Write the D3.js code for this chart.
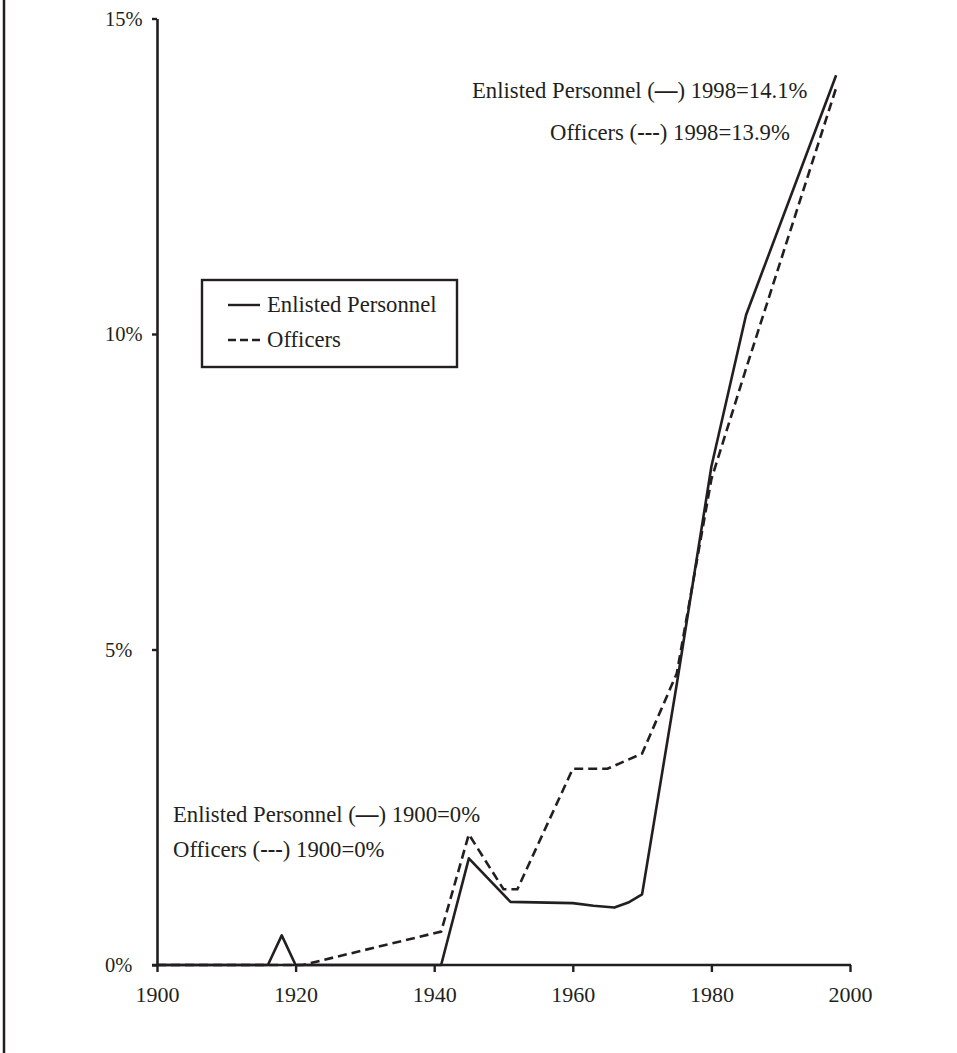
<!DOCTYPE html>
<html>
<head>
<meta charset="utf-8">
<script src="https://cdn.jsdelivr.net/npm/d3@7"></script>
<style>
  body { margin: 0; background: #fff; }
  svg { display: block; }
  text { font-family: "Liberation Serif", "DejaVu Serif", serif; fill: #231f20; }
</style>
</head>
<body>
<svg id="chart" width="957" height="1053"></svg>
<script>
// ---- data ----
const enlistedYears  = [1900, 1916, 1918, 1920, 1941, 1945, 1951, 1960, 1963, 1966, 1968, 1970, 1975, 1980, 1985, 1998];
const enlistedValues = [0,    0,    0.47, 0,    0,    1.69, 1.0,  0.98, 0.94, 0.91, 0.99, 1.12, 4.45, 7.9,  10.3, 14.1];

const officerYears   = [1900, 1921, 1941, 1945, 1950, 1952, 1960, 1965, 1970, 1975, 1980, 1985, 1998];
const officerValues  = [0,    0,    0.53, 2.07, 1.2,  1.2,  3.11, 3.11, 3.35, 4.62, 7.7,  9.45, 13.9];

const xTicks = [1900, 1920, 1940, 1960, 1980, 2000];
const yTicks = [0, 5, 10, 15];
const yTickLabels = ["0%", "5%", "10%", "15%"];

const seriesNames = ["Enlisted Personnel", "Officers"];

// ---- layout ----
const ink = "#231f20";
const textSize = "22.7px";
const svg = d3.select("#chart");
const x = d3.scaleLinear().domain([1900, 2000]).range([157, 850]);
const y = d3.scaleLinear().domain([0, 15]).range([965, 18.5]);

// left frame line
svg.append("line")
  .attr("x1", 4).attr("x2", 4).attr("y1", 0).attr("y2", 1053)
  .attr("stroke", ink).attr("stroke-width", 2.5);

// axes
const xAxis = d3.axisBottom(x).tickValues(xTicks).tickSize(7).tickSizeOuter(0).tickFormat(d3.format("d"));
const gx = svg.append("g").attr("transform", `translate(0,${y(0)})`).call(xAxis);
gx.select(".domain").attr("stroke", ink).attr("stroke-width", 2.6).attr("d", `M${x(1900) - 5},0H${x(2000) + 1}`);
gx.selectAll(".tick line").attr("stroke", ink).attr("stroke-width", 2.4);
gx.selectAll(".tick text")
  .attr("y", 21).attr("dy", "0.71em")
  .style("font-family", '"Liberation Serif", serif').style("font-size", "22px").attr("fill", ink);

const yAxis = d3.axisLeft(y).tickValues(yTicks).tickSize(5).tickSizeOuter(0)
  .tickFormat((d, i) => yTickLabels[i]);
const gy = svg.append("g").attr("transform", `translate(${x(1900)},0)`).call(yAxis);
gy.select(".domain").attr("stroke", ink).attr("stroke-width", 2.6);
gy.selectAll(".tick line").attr("stroke", ink).attr("stroke-width", 2.4);
gy.selectAll(".tick text")
  .attr("text-anchor", "start").attr("x", 105 - x(1900)).attr("dy", "0.32em")
  .style("font-family", '"Liberation Serif", serif').style("font-size", "20.5px").attr("fill", ink);

// lines
const line = d3.line().x(d => x(d[0])).y(d => y(d[1])).curve(d3.curveLinear);
const enlisted = enlistedYears.map((yr, i) => [yr, enlistedValues[i]]);
const officers = officerYears.map((yr, i) => [yr, officerValues[i]]);

svg.append("path").datum(officers)
  .attr("d", line).attr("fill", "none").attr("stroke", ink)
  .attr("stroke-width", 2.6).attr("stroke-dasharray", "9,5");
svg.append("path").datum(enlisted)
  .attr("d", line).attr("fill", "none").attr("stroke", ink)
  .attr("stroke-width", 2.6).attr("stroke-linejoin", "round");

// legend
const lg = svg.append("g");
lg.append("rect").attr("x", 202).attr("y", 280).attr("width", 255).attr("height", 87)
  .attr("fill", "#fff").attr("stroke", ink).attr("stroke-width", 2.4);
lg.append("line").attr("x1", 228).attr("x2", 260).attr("y1", 305).attr("y2", 305)
  .attr("stroke", ink).attr("stroke-width", 2.4);
lg.append("line").attr("x1", 228).attr("x2", 260).attr("y1", 340).attr("y2", 340)
  .attr("stroke", ink).attr("stroke-width", 2.4).attr("stroke-dasharray", "8,4");
lg.append("text").attr("x", 267).attr("y", 312).style("font-size", textSize).text(seriesNames[0]);
lg.append("text").attr("x", 267).attr("y", 347).style("font-size", textSize).text(seriesNames[1]);

// annotations
function annot(xp, yp, name, mark, rest) {
  const t = svg.append("text").attr("x", xp).attr("y", yp).style("font-size", textSize);
  t.append("tspan").text(name + " (");
  t.append("tspan").attr("font-weight", "bold").text(mark);
  t.append("tspan").text(") " + rest);
}
annot(472, 98, seriesNames[0], "—", "1998=14.1%");
annot(550, 140, seriesNames[1], "---", "1998=13.9%");
annot(173, 822, seriesNames[0], "—", "1900=0%");
annot(173, 857, seriesNames[1], "---", "1900=0%");
</script>
</body>
</html>
